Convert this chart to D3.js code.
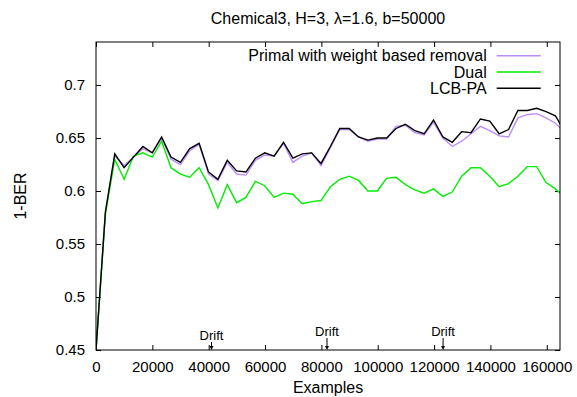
<!DOCTYPE html>
<html>
<head>
<meta charset="utf-8">
<script src="https://cdn.jsdelivr.net/npm/d3@7"></script>
<style>
  body { margin: 0; background: #fff; }
  text { font-family: "Liberation Sans", Arial, sans-serif; fill: #000; }
</style>
</head>
<body>
<div id="chart"></div>
<script>
// examples seen at each sample point
const examples = [0, 3328, 6656, 9984, 13312, 16640, 19968, 23296, 26624, 29952,
    33280, 36608, 39936, 43264, 46592, 49920, 53248, 56576, 59904, 63232,
    66560, 69888, 73216, 76544, 79872, 83200, 86528, 89856, 93184, 96512,
    99840, 103168, 106496, 109824, 113152, 116480, 119808, 123136, 126464, 129792,
    133120, 136448, 139776, 143104, 146432, 149760, 153088, 156416, 159744, 163072,
    166400];

const primal = [0.450, 0.580, 0.633, 0.624, 0.632, 0.640, 0.636, 0.650, 0.630, 0.625,
    0.638, 0.644, 0.616, 0.610, 0.627, 0.616, 0.615, 0.629, 0.634, 0.633,
    0.645, 0.627, 0.633, 0.636, 0.624, 0.641, 0.658, 0.658, 0.651, 0.647,
    0.649, 0.649, 0.661, 0.662, 0.655, 0.653, 0.665, 0.650, 0.642, 0.647,
    0.654, 0.661, 0.657, 0.652, 0.651, 0.669, 0.672, 0.673, 0.669, 0.664,
    0.655];

const dual = [0.450, 0.578, 0.630, 0.611, 0.633, 0.636, 0.632, 0.647, 0.622, 0.616,
    0.613, 0.622, 0.606, 0.584, 0.606, 0.589, 0.594, 0.609, 0.605, 0.594,
    0.598, 0.597, 0.588, 0.590, 0.591, 0.604, 0.611, 0.614, 0.610, 0.600,
    0.600, 0.612, 0.613, 0.606, 0.601, 0.598, 0.602, 0.595, 0.599, 0.614,
    0.622, 0.622, 0.614, 0.604, 0.607, 0.614, 0.623, 0.623, 0.608, 0.602,
    0.594];

const lcbpa = [0.450, 0.580, 0.635, 0.622, 0.632, 0.642, 0.636, 0.651, 0.632, 0.627,
    0.640, 0.645, 0.618, 0.611, 0.629, 0.619, 0.618, 0.631, 0.636, 0.633,
    0.646, 0.631, 0.635, 0.636, 0.626, 0.642, 0.659, 0.659, 0.651, 0.648,
    0.650, 0.650, 0.659, 0.663, 0.657, 0.654, 0.667, 0.651, 0.646, 0.656,
    0.655, 0.668, 0.666, 0.654, 0.658, 0.676, 0.676, 0.678, 0.675, 0.671,
    0.656];

const seriesNames = ["Primal with weight based removal", "Dual", "LCB-PA"];
const drifts = [41000, 82000, 123200];
const xTicks = [0, 20000, 40000, 60000, 80000, 100000, 120000, 140000, 160000];
const yTicks = [0.45, 0.5, 0.55, 0.6, 0.65, 0.7];

const colors = ["#bb8cff", "#00ee00", "#000000"];
const chart = {width: 577, height: 397, margin: {top: 42, right: 17, bottom: 47, left: 96}};
chart.innerWidth = chart.width - chart.margin.left - chart.margin.right;
chart.innerHeight = chart.height - chart.margin.top - chart.margin.bottom;

const svg = d3.select("#chart").append("svg")
    .attr("width", chart.width)
    .attr("height", chart.height);

svg.append("text")
    .attr("x", chart.margin.left + chart.innerWidth / 2)
    .attr("y", 24)
    .attr("text-anchor", "middle")
    .style("font-size", "16px")
    .text("Chemical3, H=3, \u03bb=1.6, b=50000");

const g = svg.append("g")
    .attr("transform", `translate(${chart.margin.left}, ${chart.margin.top})`);

const x = d3.scaleLinear().domain([0, 164700]).range([0, chart.innerWidth]);
const y = d3.scaleLinear().domain([0.45, 0.7406]).range([chart.innerHeight, 0]);

// axes with inward ticks, mirrored on top and right
g.append("g")
    .attr("transform", `translate(0, ${chart.innerHeight})`)
    .call(d3.axisBottom(x).tickValues(xTicks).tickFormat(d3.format("d")).tickSizeInner(-5).tickSizeOuter(0).tickPadding(11));
g.append("g")
    .call(d3.axisLeft(y).tickValues(yTicks).tickFormat(d => d3.format("")(d)).tickSizeInner(-5).tickSizeOuter(0).tickPadding(11));
g.append("g")
    .call(d3.axisTop(x).tickValues(xTicks).tickFormat("").tickSizeInner(-5).tickSizeOuter(0));
g.append("g")
    .attr("transform", `translate(${chart.innerWidth}, 0)`)
    .call(d3.axisRight(y).tickValues(yTicks).tickFormat("").tickSizeInner(-5).tickSizeOuter(0));

g.selectAll(".domain").remove();
g.selectAll(".tick line").attr("stroke", "#000");
g.selectAll(".tick text").style("font-size", "15px").attr("fill", "#000");

g.append("defs").append("clipPath").attr("id", "clip")
    .append("rect").attr("width", chart.innerWidth).attr("height", chart.innerHeight);

const line = d3.line()
    .x(d => x(d[0]))
    .y(d => y(d[1]));

[primal, dual, lcbpa].forEach((vals, i) => {
    g.append("path")
        .datum(examples.map((e, j) => [e, vals[j]]))
        .attr("clip-path", "url(#clip)")
        .attr("d", line)
        .attr("fill", "none")
        .attr("stroke", colors[i])
        .attr("stroke-width", 1.4)
        .attr("stroke-linejoin", "miter");
});

// frame
g.append("rect")
    .attr("width", chart.innerWidth)
    .attr("height", chart.innerHeight)
    .attr("fill", "none")
    .attr("stroke", "#000")
    .attr("stroke-width", 1);

// legend
const legend = g.append("g");
seriesNames.forEach((name, i) => {
    const ly = 13.7 + i * 16.3;
    legend.append("text")
        .attr("x", 390.7)
        .attr("y", ly)
        .attr("dy", "0.35em")
        .attr("text-anchor", "end")
        .style("font-size", "16px")
        .text(name);
    legend.append("line")
        .attr("x1", 400.7).attr("x2", 444.7)
        .attr("y1", ly).attr("y2", ly)
        .attr("stroke", colors[i])
        .attr("stroke-width", 1.4);
});

// drift markers
const arrowLen = [8, 12, 12];
drifts.forEach((d, i) => {
    const ax = x(d);
    const top = chart.innerHeight - arrowLen[i];
    g.append("line")
        .attr("x1", ax).attr("x2", ax)
        .attr("y1", top).attr("y2", chart.innerHeight - 3)
        .attr("stroke", "#000").attr("stroke-width", 1);
    g.append("path")
        .attr("d", `M${ax - 2},${chart.innerHeight - 4} L${ax + 2},${chart.innerHeight - 4} L${ax},${chart.innerHeight} Z`)
        .attr("fill", "#000");
    g.append("text")
        .attr("x", ax)
        .attr("y", top - 1.7)
        .attr("text-anchor", "middle")
        .style("font-size", "13px")
        .text("Drift");
});

// axis labels
svg.append("text")
    .attr("x", chart.margin.left + chart.innerWidth / 2)
    .attr("y", 393)
    .attr("text-anchor", "middle")
    .style("font-size", "16px")
    .text("Examples");

svg.append("text")
    .attr("transform", `translate(26, ${chart.margin.top + chart.innerHeight / 2}) rotate(-90)`)
    .attr("text-anchor", "middle")
    .style("font-size", "16px")
    .text("1-BER");
</script>
</body>
</html>
